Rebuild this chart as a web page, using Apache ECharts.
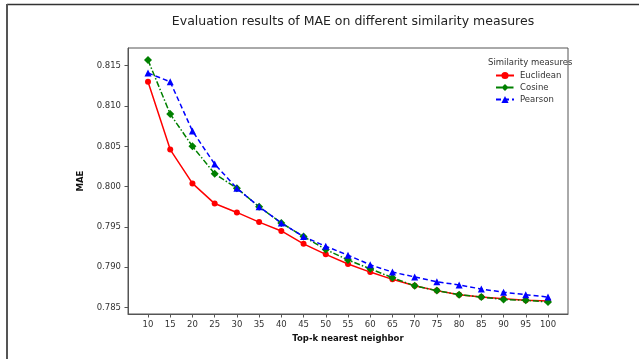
<!DOCTYPE html>
<html>
<head>
<meta charset="utf-8">
<script src="https://cdn.jsdelivr.net/npm/echarts@6/dist/echarts.min.js"></script>
<style>
  html, body { margin: 0; padding: 0; background: #fff; }
  #chart { width: 639px; height: 359px; }
</style>
</head>
<body>
<div id="chart"></div>
<script>
const kValues = [10, 15, 20, 25, 30, 35, 40, 45, 50, 55, 60, 65, 70, 75, 80, 85, 90, 95, 100];
const euclidean = [0.8130, 0.8046, 0.8004, 0.7979, 0.7968, 0.7956, 0.7945, 0.7929, 0.7916, 0.7904, 0.7894, 0.7885, 0.7877, 0.7871, 0.7866, 0.7863, 0.7861, 0.7859, 0.7858];
const cosine = [0.8157, 0.8090, 0.8050, 0.8016, 0.7998, 0.7975, 0.7955, 0.7938, 0.7922, 0.7909, 0.7898, 0.7887, 0.7877, 0.7871, 0.7866, 0.7863, 0.7860, 0.7859, 0.7857];
const pearson = [0.8141, 0.8130, 0.8069, 0.8028, 0.7998, 0.7975, 0.7955, 0.7938, 0.7926, 0.7915, 0.7903, 0.7894, 0.7888, 0.7882, 0.7878, 0.7873, 0.7869, 0.7866, 0.7863];
const yTicks = [0.785, 0.790, 0.795, 0.800, 0.805, 0.810, 0.815];

const font = 'DejaVu Sans';
const chart = echarts.init(document.getElementById('chart'));

function pairs(vals) {
  return kValues.map((k, i) => [k, vals[i]]);
}

function lineSeries(name, vals, color, dash, symbol, size) {
  return {
    name: name,
    type: 'line',
    data: pairs(vals),
    symbol: symbol,
    symbolSize: size,
    showAllSymbol: true,
    itemStyle: { color: color },
    lineStyle: { color: color, width: 1.5, type: dash },
    emphasis: { disabled: true },
    animation: false
  };
}

chart.setOption({
  animation: false,
  title: [
    {
      text: 'Evaluation results of MAE on different similarity measures',
      left: 348, top: 10, textAlign: 'center',
      textStyle: { fontFamily: font, fontSize: 12.5, fontWeight: 'normal', color: '#222' }
    },
    {
      text: 'Similarity measures',
      left: 483, top: 53,
      textStyle: { fontFamily: font, fontSize: 8.5, fontWeight: 'normal', color: '#333' }
    }
  ],
  legend: {
    orient: 'vertical',
    left: 490, top: 66,
    itemWidth: 18, itemHeight: 9, itemGap: 3,
    textStyle: { fontFamily: font, fontSize: 8.5, color: '#333', padding: [0, 0, 0, 1] },
    data: ['Euclidean', 'Cosine', 'Pearson']
  },
  grid: { left: 128, right: 71, top: 48, bottom: 45, show: true, borderColor: '#555', borderWidth: 1, backgroundColor: '#fff' },
  xAxis: {
    type: 'value', min: 5.5, max: 104.5,
    name: 'Top-k nearest neighbor', nameLocation: 'middle', nameGap: 20,
    nameTextStyle: { fontFamily: font, fontSize: 8.5, fontWeight: 'bold', color: '#111' },
    axisLine: { lineStyle: { color: '#555' } },
    axisTick: { length: 3.5, customValues: kValues, lineStyle: { color: '#555' } },
    axisLabel: { customValues: kValues, margin: 6, fontFamily: font, fontSize: 8.5, color: '#333' },
    splitLine: { show: false }
  },
  yAxis: {
    type: 'value', min: 0.7842, max: 0.8172,
    name: 'MAE', nameLocation: 'middle', nameGap: 33,
    nameTextStyle: { fontFamily: font, fontSize: 8.5, fontWeight: 'bold', color: '#111' },
    axisLine: { show: true, lineStyle: { color: '#555' } },
    axisTick: { show: true, length: 3.5, customValues: yTicks, lineStyle: { color: '#555' } },
    axisLabel: { customValues: yTicks, margin: 7, fontFamily: font, fontSize: 8.5, color: '#333',
      formatter: v => v.toFixed(3) },
    splitLine: { show: false }
  },
  series: [
    lineSeries('Euclidean', euclidean, '#ff0000', 'solid', 'circle', 6),
    lineSeries('Cosine', cosine, '#008000', [6, 2, 1.5, 2], 'diamond', 8),
    lineSeries('Pearson', pearson, '#0000ff', [5, 3], 'triangle', 7)
  ],
  graphic: [
    { type: 'line', shape: { x1: 7, y1: 4.5, x2: 639, y2: 4.5 }, style: { stroke: '#333', lineWidth: 1.5 } },
    { type: 'line', shape: { x1: 7, y1: 4, x2: 7, y2: 359 }, style: { stroke: '#555', lineWidth: 2 } }
  ]
});
</script>
</body>
</html>
